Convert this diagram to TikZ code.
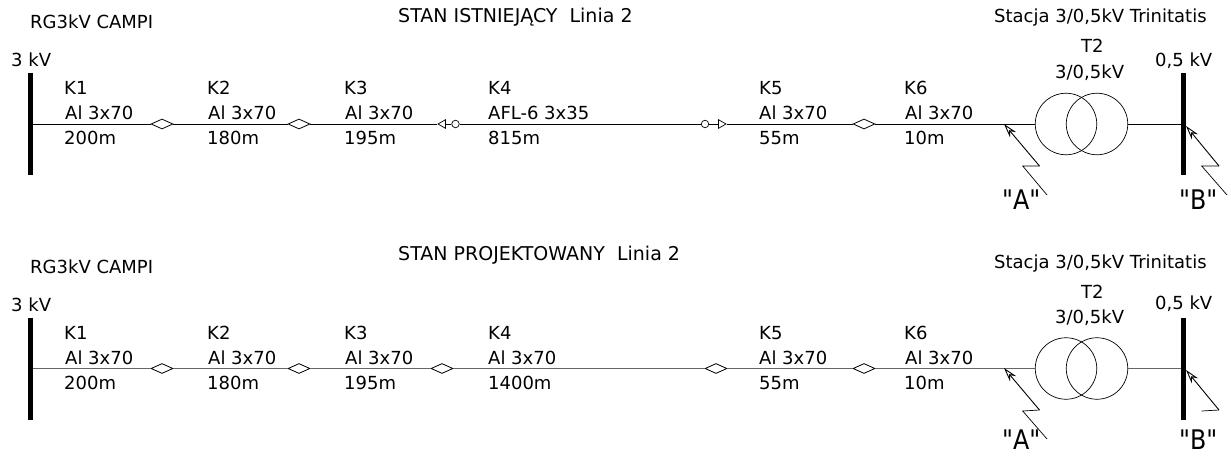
\documentclass[tikz,border=0pt]{standalone}
\usepackage{fontspec}
\setmainfont{DejaVu Sans}
\newfontfamily\plainq{DejaVu Sans}[FakeStretch=0.88]
\usetikzlibrary{shapes.geometric,arrows.meta}
\tikzset{
 lbl/.style={font=\fontsize{18}{20}\selectfont,inner sep=0,anchor=base west,text=black},
 ttl/.style={font=\fontsize{19}{21}\selectfont,inner sep=0,anchor=base west,text=black},
 big/.style={font=\fontsize{27}{29}\selectfont\plainq,inner sep=0,anchor=base west,text=black},
 bus/.style={draw=none,fill=black,inner sep=0,minimum width=5.5pt,minimum height=102pt},
 joint/.style={diamond,draw,fill=white,inner sep=0,minimum width=22pt,minimum height=10pt,line width=.8pt},
 wire/.style={line width=.9pt},
 graywire/.style={line width=1.3pt,draw=black!60},
 thin line/.style={line width=.7pt},
 winding/.style={circle,draw,inner sep=0,minimum size=61.5pt,line width=.7pt},
 ring/.style={circle,draw,fill=white,inner sep=0,minimum size=7.5pt,line width=.7pt},
 tri/.style={regular polygon,regular polygon sides=3,draw,fill=white,inner sep=0,minimum size=10pt,line width=.7pt},
 hollow/.style={-{Stealth[open,length=14pt,width=8pt,fill=white]},line width=.9pt}
}
\begin{document}
\begin{tikzpicture}[x=1pt,y=-1pt]
\useasboundingbox (0,0) rectangle (1231,455);
\fill[white] (0,0) rectangle (1231,455);
% top
\node[bus] (b1) at (30.5,124) {};
\node[bus] (b2) at (1183.5,124) {};
\node[joint] (d1) at (162,124) {};
\node[joint] (d2) at (299,124) {};
\node[joint] (d5) at (864,124) {};
\node[tri,shape border rotate=90,minimum size=10pt] (t1) at (443,124) {};
\node[ring] (r1) at (455.5,124) {};
\node[ring] (r2) at (705,124) {};
\node[tri,shape border rotate=-90] (t2) at (721,124) {};
\node[winding] (w1) at (1066,124) {};
\node[winding] (w2) at (1097,124) {};
\coordinate (fa0) at (1004,124);
\coordinate (fa1) at (1039.5,166);
\coordinate (fa2) at (1022.7,166);
\coordinate (fa3) at (1047,195);
\coordinate (fb0) at (1186,126);
\coordinate (fb1) at (1219,166);
\coordinate (fb2) at (1201.7,166);
\coordinate (fb3) at (1227,195);
\draw[wire] (b1) -- (d1) (d1) -- (d2) (d2) -- (t1) (r1) -- (r2) (t2) -- (d5) (d5) -- (w1) (w2) -- (b2);
\draw[thin line] (t1) -- (r1) (r2) -- (t2);
\draw[hollow] (fa1) -- (fa0);
\draw[thin line] (fa1) -- (fa2) -- (fa3);
\draw[hollow] (fb1) -- (fb0);
\draw[thin line] (fb1) -- (fb2) -- (fb3);
\node[lbl] (tA) at (30,28) {RG3kV CAMPI};
\node[ttl] (tB) at (398,22) {STAN ISTNIEJĄCY\ \ Linia 2};
\node[lbl] (tC) at (994,23) {Stacja 3/0,5kV Trinitatis};
\node[lbl] (tD) at (11,66) {3 kV};
\node[lbl] (k1) at (64,94) {K1};
\node[lbl] (a1) at (65,119) {Al 3x70};
\node[lbl] (m1) at (64,144) {200m};
\node[lbl] (k2) at (207,94) {K2};
\node[lbl] (a2) at (208,119) {Al 3x70};
\node[lbl] (m2) at (207,144) {180m};
\node[lbl] (k3) at (344,94) {K3};
\node[lbl] (a3) at (345,119) {Al 3x70};
\node[lbl] (m3) at (344,144) {195m};
\node[lbl] (k4) at (488,94) {K4};
\node[lbl] (a4) at (488,119) {AFL-6 3x35};
\node[lbl] (m4) at (488,144) {815m};
\node[lbl] (k5) at (759,94) {K5};
\node[lbl] (a5) at (759,119) {Al 3x70};
\node[lbl] (m5) at (759,144) {55m};
\node[lbl] (k6) at (904,94) {K6};
\node[lbl] (a6) at (905,119) {Al 3x70};
\node[lbl] (m6) at (904,144) {10m};
\node[lbl] (t2a) at (1081,52) {T2};
\node[lbl] (t2b) at (1055,78) {3/0,5kV};
\node[lbl] (v2) at (1155,66) {0,5 kV};
\node[big] (qa) at (1002,209) {"A"};
\node[big] (qb) at (1179,209) {"B"};
% bottom
\node[bus] (cb1) at (30.5,368.5) {};
\node[bus] (cb2) at (1183.5,368.5) {};
\node[joint] (e1) at (162,368.5) {};
\node[joint] (e2) at (299,368.5) {};
\node[joint] (e3) at (442,368.5) {};
\node[joint] (e4) at (716,368.5) {};
\node[joint] (e5) at (864,368.5) {};
\node[winding] (x1) at (1066,368.5) {};
\node[winding] (x2) at (1097,368.5) {};
\coordinate (ga0) at (1004,368);
\coordinate (ga1) at (1039.5,410);
\coordinate (ga2) at (1022.7,411);
\coordinate (ga3) at (1047,439);
\coordinate (gb0) at (1186,370);
\coordinate (gb1) at (1219,410);
\coordinate (gb2) at (1201.7,411);
\draw[graywire] (cb1) -- (e1) (e1) -- (e2) (e2) -- (e3) (e3) -- (e4) (e4) -- (e5) (e5) -- (x1) (x2) -- (cb2);
\draw[hollow] (ga1) -- (ga0);
\draw[thin line] (ga1) -- (ga2) -- (ga3);
\draw[hollow] (gb1) -- (gb0);
\draw[thin line] (gb1) -- (gb2);
\node[lbl] (ctA) at (30,273) {RG3kV CAMPI};
\node[ttl] (ctB) at (398,260) {STAN PROJEKTOWANY\ \ Linia 2};
\node[lbl] (ctC) at (994,268) {Stacja 3/0,5kV Trinitatis};
\node[lbl] (ctD) at (11,311) {3 kV};
\node[lbl] (ck1) at (64,339) {K1};
\node[lbl] (ca1) at (65,364) {Al 3x70};
\node[lbl] (cm1) at (64,389) {200m};
\node[lbl] (ck2) at (207,339) {K2};
\node[lbl] (ca2) at (208,364) {Al 3x70};
\node[lbl] (cm2) at (207,389) {180m};
\node[lbl] (ck3) at (344,339) {K3};
\node[lbl] (ca3) at (345,364) {Al 3x70};
\node[lbl] (cm3) at (344,389) {195m};
\node[lbl] (ck4) at (488,339) {K4};
\node[lbl] (ca4) at (488,364) {Al 3x70};
\node[lbl] (cm4) at (488,389) {1400m};
\node[lbl] (ck5) at (759,339) {K5};
\node[lbl] (ca5) at (759,364) {Al 3x70};
\node[lbl] (cm5) at (759,389) {55m};
\node[lbl] (ck6) at (904,339) {K6};
\node[lbl] (ca6) at (905,364) {Al 3x70};
\node[lbl] (cm6) at (904,389) {10m};
\node[lbl] (ct2a) at (1081,298) {T2};
\node[lbl] (ct2b) at (1055,323) {3/0,5kV};
\node[lbl] (cv2) at (1155,309) {0,5 kV};
\node[big] (cqa) at (1002,449) {"A"};
\node[big] (cqb) at (1179,449) {"B"};
\end{tikzpicture}
\end{document}
